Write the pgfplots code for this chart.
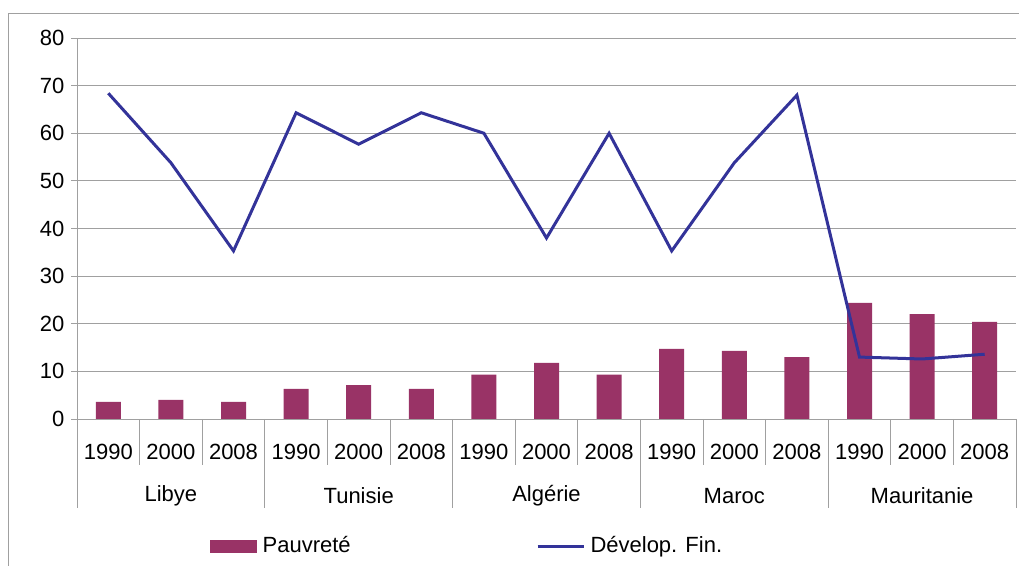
\documentclass[border=0pt]{standalone}
\usepackage{pgfplots}
\pgfplotsset{compat=1.18}
\usepackage{fontspec}
\setmainfont{Liberation Sans}
\definecolor{barc}{HTML}{993366}
\definecolor{linec}{HTML}{333399}
\definecolor{gridc}{HTML}{A0A0A0}
\begin{document}
\begin{tikzpicture}
\fontsize{22bp}{26bp}\selectfont
\path[use as bounding box] (0,0) rectangle (1019bp,566bp);
\draw[gridc, line width=0.8bp] (8.5bp,-2bp) -- (8.5bp,553bp) -- (1025bp,553bp);
\begin{axis}[
  at={(77bp,147bp)}, anchor=south west,
  width=939bp, height=381bp, scale only axis,
  xmin=-0.5, xmax=14.5, ymin=0, ymax=80,
  ytick={0,10,...,80},
  xtick={0,...,14},
  xticklabels={1990,2000,2008,1990,2000,2008,1990,2000,2008,1990,2000,2008,1990,2000,2008},
  axis lines*=left,
  ymajorgrids,
  grid style={gridc, line width=0.8bp},
  tick align=outside,
  major tick length=6bp,
  x tick style={draw=none},
  y tick style={gridc, line width=0.8bp},
  axis line style={gridc, line width=0.8bp, -},
  tick label style={font=\fontsize{22bp}{26bp}\selectfont, text=black},
  /pgf/number format/assume math mode=true,
  xticklabel style={anchor=center, yshift=-27bp},
  yticklabel style={anchor=east, xshift=1bp},
  clip=false,
  legend columns=2,
  legend style={at={(axis description cs:0.1416,-0.334)}, anchor=west, draw=none, fill=none, inner sep=0pt,
    font=\fontsize{22bp}{26bp}\selectfont,
    nodes={inner sep=1.5bp},
    /tikz/every even column/.append style={column sep=184bp},
    /tikz/every odd column/.append style={column sep=4bp}},
]
\addplot[ybar, bar width=25bp, fill=barc, draw=none,
  legend image code/.code={\fill[barc] (0bp,-6.5bp) rectangle (47bp,6.5bp);}]
  coordinates {(0,3.6) (1,4.0) (2,3.6) (3,6.3) (4,7.1) (5,6.3) (6,9.3) (7,11.8) (8,9.3)
               (9,14.7) (10,14.3) (11,13.0) (12,24.4) (13,22.0) (14,20.4)};
\addlegendentry{Pauvreté}
\addplot[linec, line width=3bp, mark=none,
  legend image code/.code={\draw[linec, line width=2.8bp] (0bp,0bp) -- (46bp,0bp);}]
  coordinates {(0,68.4) (1,53.8) (2,35.3) (3,64.3) (4,57.7) (5,64.3) (6,60.0) (7,38.0) (8,60.0)
               (9,35.3) (10,53.8) (11,68.0) (12,13.0) (13,12.6) (14,13.6)};
\addlegendentry{Dévelop. Fin.}
\pgfplotsinvokeforeach{0.5,1.5,3.5,4.5,6.5,7.5,9.5,10.5,12.5,13.5}{
  \draw[gridc, line width=0.8bp] (axis cs:#1,0) -- ++(0bp,-46bp);
}
\pgfplotsinvokeforeach{-0.5,2.5,5.5,8.5,11.5,14.5}{
  \draw[gridc, line width=0.8bp] (axis cs:#1,0) -- ++(0bp,-89bp);
}
\node[anchor=center, yshift=-77bp] at (axis cs:1,0) {Libye};
\node[anchor=center, yshift=-77bp] at (axis cs:4,0) {Tunisie};
\node[anchor=center, yshift=-77bp] at (axis cs:7,0) {Algérie};
\node[anchor=center, yshift=-77bp] at (axis cs:10,0) {Maroc};
\node[anchor=center, yshift=-77bp] at (axis cs:13,0) {Mauritanie};
\end{axis}
\end{tikzpicture}
\end{document}
